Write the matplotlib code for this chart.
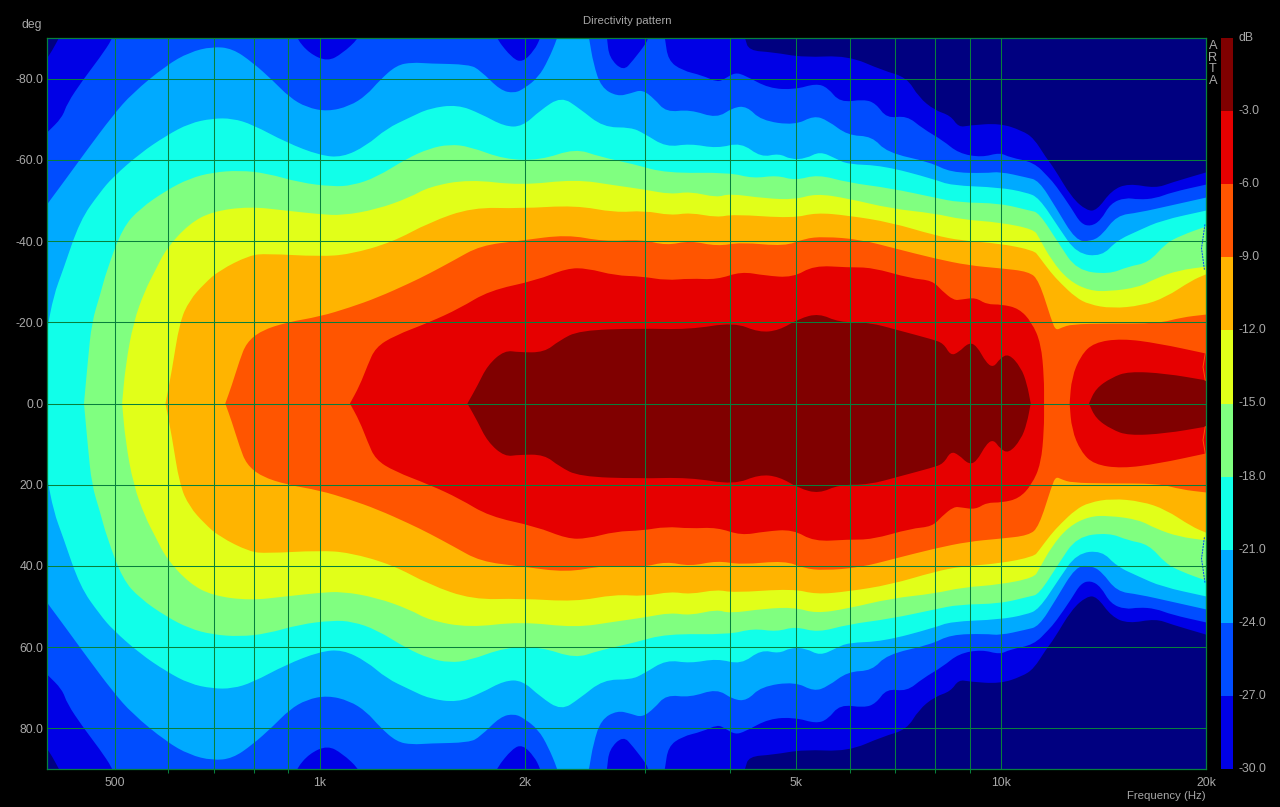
import numpy as np
import matplotlib
matplotlib.use("Agg")
import matplotlib.pyplot as plt
from matplotlib.patches import PathPatch
from matplotlib.path import Path
from matplotlib.ticker import NullFormatter

plt.rcParams["font.family"] = ["Liberation Sans", "DejaVu Sans"]

# level contours: frequency in Hz, angle in deg
# the pattern is mirrored about 0 deg so only one half is kept
# angles of 92 are past the top of the chart
freq_m30 = [398, 405, 414, 421, 4183, 4211, 4267, 4624, 5140, 5960, 6710, 7274, 7576, 7996, 8436, 8670, 8994, 9966, 10738, 11178, 11640, 11955, 12703, 13362, 13826, 14538, 15390, 16867, 17800, 20000]
ang_m30 = [85, 86.9, 89.9, 92, 92, 89.9, 86.9, 86.5, 85.2, 85.7, 82, 80.3, 75.4, 72.2, 70.9, 68, 68.5, 69, 67.2, 65.3, 60.6, 58.1, 50.7, 47.5, 47.5, 52.5, 54.2, 53, 54.4, 56.9]

freq_m27 = [398, 419, 426, 449, 476, 497, 500, 922, 925, 966, 1027, 1080, 1141, 1148, 1805, 1817, 1918, 1985, 2065, 2108, 2122, 2625, 2643, 2660, 2790, 2885, 3015, 3034, 3050, 3192, 3214, 3247, 3405, 3643, 3838, 3936, 4071, 4211, 4564, 4986, 5351, 5570, 5804, 6293, 6553, 6799, 7274, 7678, 8215, 8670, 9370, 9966, 10300, 11178, 11750, 12037, 12703, 13098, 13544, 14014, 14488, 15230, 15930, 16867, 17800, 20000]
ang_m27 = [66.7, 70.4, 73.9, 79.6, 85.2, 89.9, 92, 92, 89.9, 86.2, 84.2, 86.2, 89.9, 92, 92, 89.9, 85, 84, 86.9, 89.9, 92, 92, 89.9, 85.2, 81.8, 84.5, 88.7, 89.9, 92, 92, 89.9, 84.5, 82, 80.8, 79.1, 80, 81.5, 80.8, 77.6, 77.3, 78.8, 77.8, 74.1, 74.9, 73.9, 70.2, 70.9, 67.7, 64.8, 61.6, 60.6, 61.8, 60.6, 59.4, 55.7, 53.7, 48, 44.3, 43.6, 45.1, 49.3, 50.7, 50.2, 50.5, 52, 53.9]

freq_m24 = [398, 426, 455, 497, 531, 596, 644, 696, 745, 797, 853, 903, 957, 1027, 1106, 1172, 1225, 1297, 1368, 1449, 1658, 1722, 1842, 1932, 1998, 2094, 2165, 2233, 2248, 2470, 2487, 2522, 2590, 2735, 2865, 2974, 3097, 3226, 3497, 3827, 4045, 4239, 4445, 4986, 5315, 5570, 5960, 6470, 6799, 7884, 8436, 9496, 9966, 10880, 11370, 12037, 12878, 13544, 14060, 14790, 15930, 17800, 20000]
ang_m24 = [49, 55.7, 62.3, 70.9, 76.4, 83.3, 86.5, 87.9, 87.4, 84, 79.6, 75.4, 72.9, 71.9, 73.2, 75.9, 79.6, 83.3, 84, 83.7, 83.5, 82, 77.1, 76.4, 77.6, 80.3, 84.5, 89.9, 92, 92, 89.9, 83.7, 77.8, 75.6, 76.4, 77.3, 75.1, 71.7, 72.4, 70.2, 72.9, 73.2, 69.7, 68.5, 70.9, 69.7, 66, 65.8, 61.8, 59.4, 56.9, 56.7, 57.1, 55.7, 54.9, 48.3, 40.1, 39.9, 41.4, 46.3, 47, 48.8, 50.7]

freq_m21 = [398, 407, 420, 445, 476, 497, 545, 596, 644, 696, 745, 797, 893, 1000, 1080, 1172, 1254, 1355, 1449, 1593, 1722, 1868, 1985, 2108, 2263, 2405, 2608, 2865, 2994, 3226, 3497, 3832, 4155, 4445, 4723, 4915, 5174, 5424, 5725, 5960, 6710, 7996, 8436, 9966, 10880, 11370, 12160, 12920, 14060, 14790, 15930, 17210, 20000]
ang_m21 = [18, 26.6, 32.8, 45.1, 52, 55.7, 61.6, 66, 69, 70.2, 70.2, 68.7, 64.3, 61.1, 60.6, 63.5, 67.7, 70.4, 72.7, 73.6, 71.4, 68.2, 68.2, 72.2, 75.6, 72.7, 68, 68, 66.5, 63.1, 64, 62.8, 64.3, 60.6, 61.6, 60.1, 60.3, 62.1, 60.3, 58.9, 58.6, 55.2, 53.7, 53.2, 52, 50.7, 43.3, 36.9, 36.2, 40.1, 42.6, 45.1, 47.5]

freq_m18 = [451, 457, 463, 476, 487, 514, 545, 596, 644, 696, 763, 836, 935, 1045, 1118, 1212, 1342, 1449, 1550, 1658, 1868, 2108, 2373, 2573, 2897, 3226, 3990, 4325, 4690, 4986, 5388, 5960, 6890, 7996, 8670, 9966, 11020, 11370, 12160, 12920, 14400, 15360, 16480, 17450, 18400, 20000]
ang_m18 = [0, 10.6, 20, 26.6, 32.8, 43.3, 48, 52.5, 55.4, 56.9, 57.4, 56.7, 54.4, 53.4, 53.7, 55.7, 60.3, 62.8, 63.8, 63.3, 60.1, 59.9, 62.8, 60.8, 58.9, 56.7, 56.9, 55.4, 56.2, 54.9, 56.4, 54.4, 53, 50.7, 49.5, 49.3, 47.5, 47, 39.4, 32.8, 31.8, 33.7, 34.7, 39.4, 41.4, 43.6]

freq_m15 = [513, 519, 533, 554, 574, 596, 644, 696, 789, 893, 1000, 1080, 1212, 1355, 1449, 1658, 1972, 2373, 2716, 2994, 3276, 3497, 3832, 3990, 4505, 4986, 5351, 5960, 6890, 7996, 8760, 9966, 11178, 11370, 11870, 12570, 13465, 14400, 15930, 16870, 18230, 20000]
ang_m15 = [0, 9.4, 20, 27.8, 32.8, 38.2, 44.3, 47.3, 48.5, 47.5, 46.6, 46.3, 47.8, 50.7, 53.4, 55.2, 53.7, 55.2, 53.7, 52.7, 51.5, 52.2, 50.7, 51.7, 50.5, 50.2, 51.7, 50.5, 48, 46.8, 45.3, 44.6, 42.9, 40.9, 35.2, 30.3, 27.8, 27.6, 28.6, 30.8, 32.8, 33.7]

freq_m12 = [594, 607, 623, 644, 678, 713, 789, 836, 1000, 1106, 1278, 1449, 1675, 1972, 2373, 2716, 2994, 3276, 3497, 3832, 4045, 4950, 5351, 5960, 6890, 7996, 8760, 9966, 11178, 11370, 11830, 12240, 12880, 13465, 14540, 16100, 17450, 19050, 20000]
ang_m12 = [0, 8.1, 20, 25.4, 29.6, 32.8, 36.5, 36.9, 36.2, 36.7, 39.7, 44.6, 48.3, 48, 48.8, 47, 47.5, 46.3, 47, 45.8, 46.6, 45.6, 47, 46.3, 44.6, 41.4, 40.1, 39.4, 37.7, 36.2, 32.3, 29.6, 26.1, 24.4, 23.4, 24.1, 26.1, 30.3, 31.8]

freq_m9 = [727, 743, 763, 781, 822, 896, 1000, 1106, 1217, 1355, 1449, 1572, 1722, 1972, 2307, 2608, 2974, 3226, 3497, 3832, 4155, 4820, 5140, 5497, 6209, 6985, 7996, 8965, 9966, 10990, 11370, 11870, 12037, 12280, 12700, 14270, 17040, 18400, 20000]
ang_m9 = [0, 4.4, 10.6, 15, 18, 20, 21.4, 23.6, 26.1, 29.6, 32, 35.2, 38.9, 40.1, 41.6, 39.9, 40.4, 38.9, 40.1, 38.7, 39.7, 38.7, 40.6, 41.1, 40.4, 38.2, 35.7, 34, 33.3, 32.5, 30.3, 20.4, 18, 18.7, 19.5, 19.7, 19.7, 21.2, 21.9]

freq_m6 = [1108, 1145, 1176, 1208, 1288, 1449, 1604, 1774, 2079, 2307, 2470, 2716, 2974, 3226, 3497, 3832, 4155, 4505, 4950, 5315, 5960, 6470, 7370, 7930, 8190, 8525, 8755, 9180, 9525, 10030, 10630, 11100, 11450, 11570, 11570]
ang_m6 = [0, 4.4, 9.4, 13.8, 16.7, 20, 23.4, 27.8, 30.3, 33.3, 33.3, 31.5, 31.3, 30.3, 30.8, 30.5, 32.5, 31.5, 31, 34, 33.5, 33.5, 30.8, 30.3, 27.8, 25.4, 25.6, 26.1, 24.4, 24.4, 23.4, 20, 14.8, 6.4, 0]
freq_m6_hi = [12614, 12703, 13098, 13690, 15040, 17040, 20000]
ang_m6_hi = [0, 6.4, 11.8, 15, 16, 14.8, 12.3]

freq_m3 = [1648, 1705, 1764, 1868, 1965, 2137, 2248, 2405, 2944, 3488, 4060, 4415, 4723, 5054, 5406, 5784, 6400, 7082, 7930, 8240, 8436, 8670, 8965, 9210, 9525, 9760, 9970, 10270, 10700, 10920, 11060]
ang_m3 = [0, 4.4, 9.4, 13.1, 12.6, 12.6, 15.5, 18, 18.5, 18.2, 20, 17.5, 18, 20.9, 22.2, 20, 20, 18, 15.8, 14.8, 11.8, 12.6, 15, 14.3, 9.9, 8.9, 11.1, 12.3, 8.9, 4.9, 0]
freq_m3_hi = [13465, 13780, 14540, 15390, 17450, 20000]
ang_m3_hi = [0, 3.7, 6.4, 7.9, 7.4, 5.7]

# stray contour bits at the last measured frequency
edge_blue_freq = [19930, 19700, 19900]
edge_blue_ang = [44.1, 38.2, 32.8]
edge_cyan_freq = [19970, 19970]
edge_cyan_ang = [31, 22]
edge_red_freq = [19950, 19800, 19950]
edge_red_ang = [12.3, 9, 5.7]

# colour bar
levels = [-30, -27, -24, -21, -18, -15, -12, -9, -6, -3]
level_colors = ["#0000e6", "#004dff", "#00aaff", "#11ffe9", "#80ff80",
                "#e1ff19", "#ffb400", "#ff5500", "#e60000", "#800000"]
level_ticks = [-30.0, -27.0, -24.0, -21.0, -18.0, -15.0, -12.0, -9.0, -6.0, -3.0]

angle_ticks = [-80, -60, -40, -20, 0, 20, 40, 60, 80]
freq_labeled = [500, 1000, 2000, 5000, 10000, 20000]
freq_labels = ["500", "1k", "2k", "5k", "10k", "20k"]
freq_minor = [600, 700, 800, 900, 3000, 4000, 6000, 7000, 8000, 9000]

W, H = 1280, 807
GRID = "#07803c"
TXT = "#a8a8a8"


def band_path(f, a):
    # closed outline, upper half then mirrored lower half, drawn with
    # quadratic curves so the corners come out round. end points doubled
    # so the tips on the 0 deg line and the edge corners stay sharp
    f = list(f)
    a = list(a)
    xs = [f[0]] + f + [f[-1], f[-1]] + f[::-1] + [f[0]]
    ys = [a[0]] + a + [a[-1], -a[-1]] + [-v for v in a[::-1]] + [-a[0]]
    verts = [(xs[0], ys[0])]
    codes = [Path.MOVETO]
    for i in range(1, len(xs) - 1):
        verts.append((xs[i], ys[i]))
        codes.append(Path.CURVE3)
        verts.append((np.sqrt(xs[i] * xs[i + 1]), (ys[i] + ys[i + 1]) / 2))
        codes.append(Path.CURVE3)
    verts.append((xs[0], ys[0]))
    codes.append(Path.CLOSEPOLY)
    return Path(verts, codes)


fig = plt.figure(figsize=(W / 100, H / 100), dpi=100, facecolor="black")
ax = fig.add_axes([47 / W, 1 - 769 / H, (1206 - 47) / W, (769 - 38) / H])
ax.set_facecolor("#000080")

contours = [
    (freq_m30, ang_m30, 0),
    (freq_m27, ang_m27, 1),
    (freq_m24, ang_m24, 2),
    (freq_m21, ang_m21, 3),
    (freq_m18, ang_m18, 4),
    (freq_m15, ang_m15, 5),
    (freq_m12, ang_m12, 6),
    (freq_m9, ang_m9, 7),
    (freq_m6, ang_m6, 8),
    (freq_m6_hi, ang_m6_hi, 8),
    (freq_m3, ang_m3, 9),
    (freq_m3_hi, ang_m3_hi, 9),
]

ax.set_xscale("log")
ax.set_xlim(398, 20000)
ax.set_ylim(90, -90)

# outermost first, each one painted over the last
for f, a, c in contours:
    ax.add_patch(PathPatch(band_path(f, a), facecolor=level_colors[c], lw=0, zorder=1))

for f, a, col, ls in [(edge_blue_freq, edge_blue_ang, "#0040ff", (0, (2, 1))),
                      (edge_cyan_freq, edge_cyan_ang, "#11ffe9", "-"),
                      (edge_red_freq, edge_red_ang, "#ff5500", "-")]:
    for sign in [1, -1]:
        ax.plot(f, [sign * v for v in a], color=col, lw=0.7, ls=ls, zorder=1.2)

ax.set_xticks(freq_labeled)
ax.set_xticklabels(freq_labels)
ax.set_xticks(freq_minor, minor=True)
ax.xaxis.set_minor_formatter(NullFormatter())
ax.set_yticks(angle_ticks)
ax.set_yticklabels(["%.1f" % v for v in angle_ticks])

ax.grid(True, which="both", color=GRID, lw=0.75, zorder=2)
ax.tick_params(axis="y", which="both", length=0, pad=2.5, labelcolor=TXT, labelsize=8.8)
ax.tick_params(axis="x", which="major", length=0, pad=6, labelcolor=TXT, labelsize=8.8)
ax.tick_params(axis="x", which="minor", color=GRID, length=3, width=0.75)
for s in ax.spines.values():
    s.set_color(GRID)
    s.set_linewidth(0.9)

fig.text(627 / W, 1 - 20.5 / H, "Directivity pattern", color=TXT, fontsize=8.2, ha="center", va="center")
fig.text(32 / W, 1 - 25 / H, "deg", color=TXT, fontsize=8.7, ha="center", va="center")
fig.text(1206 / W, 1 - 796 / H, "Frequency (Hz)", color=TXT, fontsize=8.2, ha="right", va="center")
for i, ch in enumerate("ARTA"):
    fig.text(1213 / W, 1 - (46 + i * 11.7) / H, ch, color=TXT, fontsize=9.2, ha="center", va="center")

cax = fig.add_axes([1221 / W, 1 - 769 / H, 12 / W, (769 - 38) / H])
cax.bar([0] * len(levels), [3] * len(levels), bottom=levels, width=1, color=level_colors, lw=0)
cax.set_xlim(-0.5, 0.5)
cax.set_ylim(-30, 0)
cax.set_xticks([])
cax.yaxis.tick_right()
cax.set_yticks(level_ticks)
cax.set_yticklabels(["%.1f" % v for v in level_ticks], va="center")
cax.tick_params(axis="y", length=0, pad=4, labelcolor=TXT, labelsize=8.8)
for s in cax.spines.values():
    s.set_visible(False)
fig.text(1246 / W, 1 - 38 / H, "dB", color=TXT, fontsize=8.7, ha="center", va="center")

fig.savefig("out.png", dpi=100, facecolor="black")
